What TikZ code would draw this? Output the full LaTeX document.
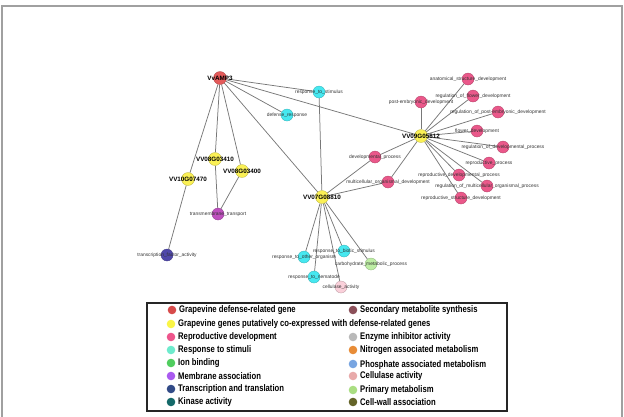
\documentclass[tikz,border=0pt]{standalone}
\usepackage{fontspec}
\setmainfont{Liberation Sans}
\newfontfamily\legendfont[FakeStretch=0.8]{Liberation Sans}
\usetikzlibrary{backgrounds}
\definecolor{edgeGray}{RGB}{120,120,120}
\definecolor{frameGray}{RGB}{160,160,160}
\definecolor{ampRed}{RGB}{228,90,90}
\definecolor{coYellow}{RGB}{250,240,85}
\definecolor{reproPink}{RGB}{234,88,138}
\definecolor{stimCyan}{RGB}{70,232,240}
\definecolor{membPurple}{RGB}{190,80,190}
\definecolor{transBlue}{RGB}{80,72,170}
\definecolor{primGreen}{RGB}{190,238,165}
\definecolor{cellPink}{RGB}{250,208,218}
% legend colours
\definecolor{lgRed}{RGB}{215,75,75}
\definecolor{lgYellow}{RGB}{250,245,70}
\definecolor{lgPink}{RGB}{238,85,140}
\definecolor{lgAqua}{RGB}{110,235,205}
\definecolor{lgGreen}{RGB}{80,205,95}
\definecolor{lgPurple}{RGB}{170,90,240}
\definecolor{lgNavy}{RGB}{50,75,135}
\definecolor{lgTeal}{RGB}{20,105,105}
\definecolor{lgBrown}{RGB}{140,80,90}
\definecolor{lgGray}{RGB}{185,185,185}
\definecolor{lgOrange}{RGB}{232,140,55}
\definecolor{lgBlue}{RGB}{120,165,225}
\definecolor{lgRose}{RGB}{232,170,170}
\definecolor{lgLime}{RGB}{170,222,130}
\definecolor{lgOlive}{RGB}{100,100,40}

\begin{document}
\begin{tikzpicture}[x=1pt, y=-1pt,
    gene/.style={circle, minimum size=13pt, inner sep=0pt, fill=#1, draw=#1!75!black, line width=0.3pt},
    term/.style={circle, minimum size=12pt, inner sep=0pt, fill=#1, draw=#1!75!black, line width=0.3pt},
    genelab/.style={font=\bfseries\fontsize{6.3}{7}\selectfont, inner sep=0pt},
    termlab/.style={font=\fontsize{4.9}{6}\selectfont, text=black!80, inner sep=0pt},
    link/.style={edgeGray, line width=0.75pt},
    legdot/.style={circle, minimum size=8.6pt, inner sep=0pt, fill=#1},
    legtext/.style={anchor=west, inner sep=0pt, font=\legendfont\bfseries\fontsize{9.6}{10}\selectfont}]
  \useasboundingbox (0,0) rectangle (624,416);

  % outer frame, open at the bottom
  \draw[frameGray, line width=2pt] (1.5,420) -- (1.5,6) -- (622,6) -- (622,420);

  % genes
  \node[gene=ampRed, label={[genelab]center:VvAMP3}] (amp) at (220,78) {};
  \node[gene=coYellow, label={[genelab]center:VV08G03410}] (g410) at (215,159) {};
  \node[gene=coYellow, label={[genelab]center:VV08G03400}] (g400) at (242,171) {};
  \node[gene=coYellow, label={[genelab]center:VV10G07470}] (g470) at (188,179) {};
  \node[gene=coYellow, label={[genelab]center:VV07G08810}] (g810) at (322,197) {};
  \node[gene=coYellow, label={[genelab]center:VV09G05812}] (g812) at (421,136) {};

  % response and transport terms
  \node[term=stimCyan, label={[termlab]center:response\_to\_stimulus}] (stim) at (319,92) {};
  \node[term=stimCyan, label={[termlab]center:defense\_response}] (defr) at (287,115) {};
  \node[term=membPurple, label={[termlab]center:transmembrane\_transport}] (tmt) at (218,214) {};
  \node[term=transBlue, label={[termlab]center:transcription\_factor\_activity}] (tfa) at (167,255) {};

  % reproductive development terms
  \node[term=reproPink, label={[termlab]center:anatomical\_structure\_development}] (asd) at (468,79) {};
  \node[term=reproPink, label={[termlab]center:regulation\_of\_flower\_development}] (rfd) at (473,96) {};
  \node[term=reproPink, label={[termlab]center:post-embryonic\_development}] (ped) at (421,102) {};
  \node[term=reproPink, label={[termlab]center:regulation\_of\_post-embryonic\_development}] (rped) at (498,112) {};
  \node[term=reproPink, label={[termlab]center:flower\_development}] (fd) at (477,131) {};
  \node[term=reproPink, label={[termlab]center:regulation\_of\_developmental\_process}] (rdp) at (503,147) {};
  \node[term=reproPink, label={[termlab]center:reproductive\_process}] (rp) at (489,163) {};
  \node[term=reproPink, label={[termlab]center:developmental\_process}] (dp) at (375,157) {};
  \node[term=reproPink, label={[termlab]center:reproductive\_developmental\_process}] (rdvp) at (459,175) {};
  \node[term=reproPink, label={[termlab]center:multicellular\_organismal\_development}] (mod) at (388,182) {};
  \node[term=reproPink, label={[termlab]center:regulation\_of\_multicellular\_organismal\_process}] (rmop) at (487,186) {};
  \node[term=reproPink, label={[termlab]center:reproductive\_structure\_development}] (rsd) at (461,198) {};

  % terms under VV07G08810
  \node[term=stimCyan, label={[termlab]center:response\_to\_other\_organism}] (roo) at (304,257) {};
  \node[term=stimCyan, label={[termlab]center:response\_to\_biotic\_stimulus}] (rbs) at (344,251) {};
  \node[term=primGreen, label={[termlab]center:carbohydrate\_metabolic\_process}] (cmp) at (371,264) {};
  \node[term=stimCyan, label={[termlab]center:response\_to\_nematode}] (rtn) at (314,277) {};
  \node[term=cellPink, label={[termlab]center:cellulase\_activity}] (cel) at (341,287) {};

  % edges
  \begin{scope}[on background layer]
    \foreach \t in {stim,defr,g812,g810,g410,g400,g470}
      \draw[link] (amp) -- (\t);
    \draw[link] (stim) -- (g810);
    \draw[link] (g410) -- (tmt);
    \draw[link] (g400) -- (tmt);
    \draw[link] (g470) -- (tfa);
    \foreach \t in {asd,rfd,ped,rped,fd,rdp,rp,dp,rdvp,mod,rmop,rsd}
      \draw[link] (g812) -- (\t);
    \foreach \t in {dp,mod,roo,rbs,cmp,rtn,cel}
      \draw[link] (g810) -- (\t);
  \end{scope}

  % legend
  \draw[black!85, line width=1.1pt] (147,303) rectangle (507,411);
  \node[legdot=lgRed] (l1) at (172,310) {};
  \node[legtext] at (179,310) {Grapevine defense-related gene};
  \node[legdot=lgYellow] (l2) at (171,324) {};
  \node[legtext] at (178,324) {Grapevine genes putatively co-expressed with defense-related genes};
  \node[legdot=lgPink] (l3) at (171,337) {};
  \node[legtext] at (178,337) {Reproductive development};
  \node[legdot=lgAqua] (l4) at (171,350) {};
  \node[legtext] at (178,350) {Response to stimuli};
  \node[legdot=lgGreen] (l5) at (171,363) {};
  \node[legtext] at (178,363) {Ion binding};
  \node[legdot=lgPurple] (l6) at (171,376) {};
  \node[legtext] at (178,376) {Membrane association};
  \node[legdot=lgNavy] (l7) at (171,389) {};
  \node[legtext] at (178,389) {Transcription and translation};
  \node[legdot=lgTeal] (l8) at (171,402) {};
  \node[legtext] at (178,402) {Kinase activity};

  \node[legdot=lgBrown] (r1) at (353,310) {};
  \node[legtext] at (360,310) {Secondary metabolite synthesis};
  \node[legdot=lgGray] (r3) at (353,337) {};
  \node[legtext] at (360,337) {Enzyme inhibitor activity};
  \node[legdot=lgOrange] (r4) at (353,350) {};
  \node[legtext] at (360,350) {Nitrogen associated metabolism};
  \node[legdot=lgBlue] (r5) at (353,364) {};
  \node[legtext] at (360,365) {Phosphate associated metabolism};
  \node[legdot=lgRose] (r6) at (353,376) {};
  \node[legtext] at (360,376) {Cellulase activity};
  \node[legdot=lgLime] (r7) at (353,390) {};
  \node[legtext] at (360,390) {Primary metabolism};
  \node[legdot=lgOlive] (r8) at (353,402) {};
  \node[legtext] at (360,402) {Cell-wall association};
\end{tikzpicture}
\end{document}
